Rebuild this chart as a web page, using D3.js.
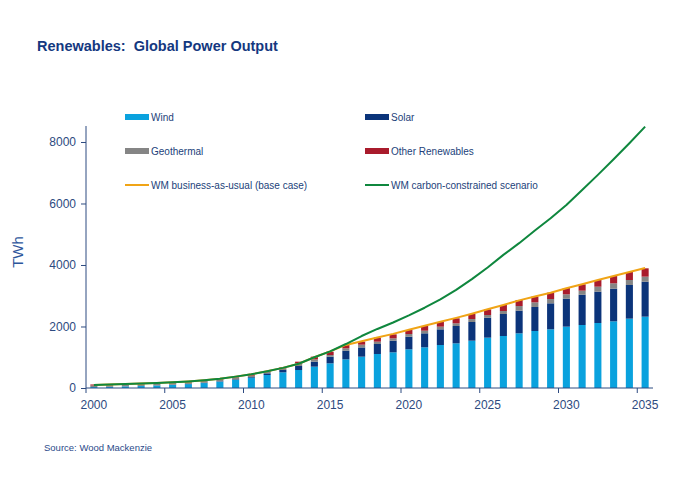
<!DOCTYPE html>
<html><head><meta charset="utf-8">
<script src="https://cdn.jsdelivr.net/npm/d3@7"></script>
<style>
html,body{margin:0;padding:0;background:#fff;}
svg{display:block;font-family:"Liberation Sans",Arial,sans-serif;}
</style></head>
<body><svg id="chart" width="680" height="490"></svg>
<script>
const years = d3.range(2000, 2036);
const wind  = [30,38,52,63,80,100,125,160,205,262,336,423,510,585,694,802,932,1019,1106,1160,1258,1323,1398,1453,1539,1637,1691,1778,1854,1908,1995,2049,2114,2168,2255,2320];
const solar = [2,2,3,4,5,6,8,10,14,20,22,54,75,130,162,217,282,300,325,379,411,455,510,563,607,650,716,737,780,846,910,986,1019,1062,1095,1138];
const geothermal = [50,52,52,55,55,57,58,60,62,63,43,54,55,87,76,54,76,90,76,76,87,86,87,87,98,87,97,150,152,140,141,130,162,174,162,163];
const otherRen = [33,33,33,28,25,25,24,20,19,20,22,22,32,54,87,109,108,100,130,130,130,152,151,163,163,184,195,197,184,206,206,206,217,238,260,271];
const bau   = [100,115,130,145,160,185,215,255,300,370,445,545,655,790,1000,1190,1400,1520,1645,1760,1895,2025,2155,2280,2415,2560,2700,2850,2975,3100,3245,3375,3510,3640,3770,3900];
const carbon= [100,115,130,145,160,185,215,255,300,370,445,545,655,790,1000,1190,1430,1690,1920,2130,2360,2610,2880,3190,3540,3920,4330,4710,5120,5520,5950,6440,6930,7440,7960,8500];
const yTicks = [0,2000,4000,6000,8000];
const xLabelYears = [2000,2005,2010,2015,2020,2025,2030,2035];
const seriesNames = ["Wind","Solar","Geothermal","Other Renewables"];
const seriesColors = ["#0AA2DE","#0B347A","#858585","#A91B2C"];
const lineNames = ["WM business-as-usual (base case)","WM carbon-constrained scenario"];
const lineColors = ["#F0A416","#0F873E"];

const navy = "#1C3A78";
const axisCol = "#2D4A80";
const svg = d3.select("#chart");

const x = d3.scaleBand().domain(years).range([86, 653]).paddingInner(0.55).paddingOuter(0.275);
const y = d3.scaleLinear().domain([0, 8520]).range([388, 126]);

// title
svg.append("text").attr("x",37).attr("y",51).attr("font-size",14.5).attr("font-weight","bold")
  .style("white-space","pre").attr("xml:space","preserve")
  .attr("fill","#14387F").text("Renewables:  Global Power Output");

// stacked bars
const rows = years.map((yr,i)=>({year:yr, Wind:wind[i], Solar:solar[i], Geothermal:geothermal[i], "Other Renewables":otherRen[i]}));
const stack = d3.stack().keys(seriesNames)(rows);
svg.append("g").selectAll("g").data(stack).join("g")
  .attr("fill",(d,i)=>seriesColors[i])
  .selectAll("rect").data(d=>d).join("rect")
  .attr("x",d=>x(d.data.year)).attr("width",x.bandwidth())
  .attr("y",d=>y(d[1])).attr("height",d=>y(d[0])-y(d[1]));

// lines
const cx = yr => x(yr)+x.bandwidth()/2;
[bau,carbon].forEach((vals,k)=>{
  svg.append("path").datum(vals).attr("fill","none").attr("stroke",lineColors[k]).attr("stroke-width",2)
    .attr("stroke-linejoin","round")
    .attr("d", d3.line().x((d,i)=>cx(years[i])).y(d=>y(d)));
});

// y axis
const yAxis = svg.append("g").attr("transform","translate(86,0)")
  .call(d3.axisLeft(y).tickValues(yTicks).tickSize(5).tickPadding(5).tickFormat(d3.format("d")));
yAxis.select(".domain").attr("d","M0,126V388");
yAxis.selectAll("line,path").attr("stroke",axisCol);
yAxis.selectAll("text").attr("fill",axisCol).attr("font-size",12).attr("font-family","Liberation Sans, Arial, sans-serif");

// x axis
const xg = svg.append("g").attr("transform","translate(0,388)");
xg.append("line").attr("x1",86).attr("x2",653).attr("stroke",axisCol);
xg.selectAll("line.tick").data(xLabelYears).join("line").attr("class","tick")
  .attr("x1",d=>x(d)-x.step()*x.paddingInner()/2).attr("x2",d=>x(d)-x.step()*x.paddingInner()/2)
  .attr("y1",0).attr("y2",5).attr("stroke",axisCol);
xg.selectAll("text").data(xLabelYears).join("text")
  .attr("x",d=>cx(d)).attr("y",21).attr("text-anchor","middle").attr("font-size",12).attr("fill",axisCol).text(d=>d);

// y label
svg.append("text").attr("transform","translate(23,252) rotate(-90)").attr("text-anchor","middle")
  .attr("font-size",15).attr("fill","#2D569B").text("TWh");

// legend
const legendItems = [
  {name:seriesNames[0], color:seriesColors[0], type:"bar", x:125, y:117},
  {name:seriesNames[1], color:seriesColors[1], type:"bar", x:365, y:117},
  {name:seriesNames[2], color:seriesColors[2], type:"bar", x:125, y:151},
  {name:seriesNames[3], color:seriesColors[3], type:"bar", x:365, y:151},
  {name:lineNames[0], color:lineColors[0], type:"line", x:125, y:185},
  {name:lineNames[1], color:lineColors[1], type:"line", x:365, y:185}
];
const lg = svg.append("g").selectAll("g").data(legendItems).join("g")
  .attr("transform",d=>`translate(${d.x},${d.y})`);
lg.filter(d=>d.type==="bar").append("rect").attr("x",0).attr("y",-3).attr("width",24).attr("height",6).attr("fill",d=>d.color);
lg.filter(d=>d.type==="line").append("line").attr("x1",0).attr("x2",24).attr("y1",0).attr("y2",0).attr("stroke",d=>d.color).attr("stroke-width",2);
lg.append("text").attr("x",26).attr("y",3.5).attr("font-size",10).attr("fill","#223F7A").text(d=>d.name);

// source
svg.append("text").attr("x",44).attr("y",451).attr("font-size",9.5).attr("fill","#2B4A8A").text("Source: Wood Mackenzie");
</script></body></html>
